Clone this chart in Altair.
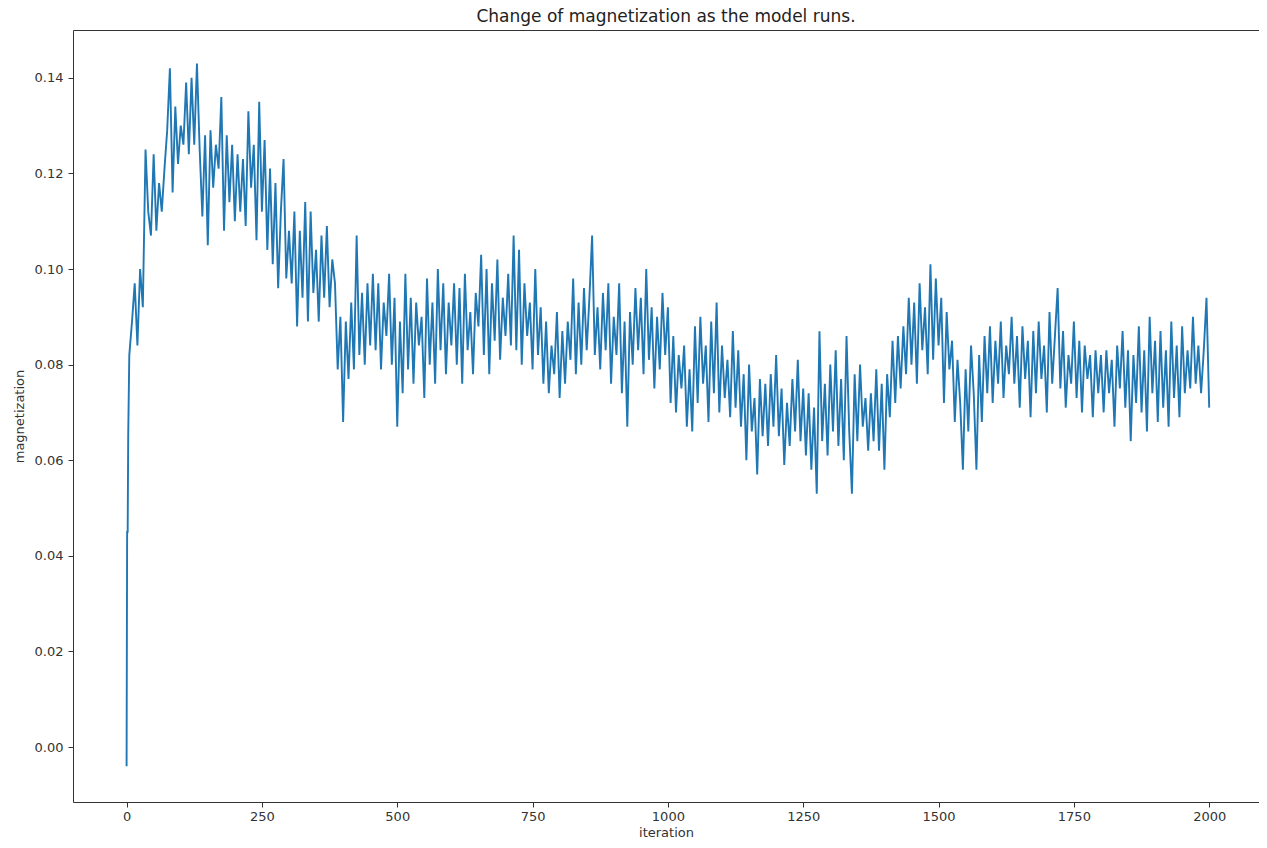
import altair as alt
import pandas as pd

# iteration index for each sampled value (start, then every 5 iterations)
iterations = [0, 1, 2, 3] + list(range(5, 2001, 5))

magnetization = [
    -0.004, 0.045, 0.045, 0.065,
    # 5-50
    0.082, 0.089, 0.097, 0.084, 0.100, 0.092, 0.125, 0.112, 0.107, 0.124,
    # 55-100
    0.108, 0.118, 0.112, 0.121, 0.129, 0.142, 0.116, 0.134, 0.122, 0.130,
    # 105-150
    0.126, 0.139, 0.124, 0.140, 0.126, 0.143, 0.125, 0.111, 0.128, 0.105,
    # 155-200
    0.129, 0.117, 0.126, 0.121, 0.136, 0.108, 0.128, 0.114, 0.126, 0.110,
    # 205-250
    0.124, 0.112, 0.123, 0.109, 0.133, 0.117, 0.126, 0.106, 0.135, 0.112,
    # 255-300
    0.127, 0.104, 0.121, 0.101, 0.118, 0.096, 0.112, 0.123, 0.098, 0.108,
    # 305-350
    0.097, 0.112, 0.088, 0.108, 0.094, 0.114, 0.089, 0.112, 0.095, 0.104,
    # 355-400
    0.089, 0.107, 0.094, 0.109, 0.092, 0.102, 0.097, 0.079, 0.090, 0.068,
    # 405-450
    0.089, 0.077, 0.093, 0.079, 0.107, 0.082, 0.095, 0.080, 0.097, 0.084,
    # 455-500
    0.099, 0.083, 0.097, 0.079, 0.093, 0.086, 0.099, 0.080, 0.094, 0.067,
    # 505-550
    0.089, 0.074, 0.099, 0.079, 0.094, 0.076, 0.093, 0.084, 0.090, 0.073,
    # 555-600
    0.098, 0.080, 0.093, 0.076, 0.100, 0.083, 0.097, 0.078, 0.093, 0.084,
    # 605-650
    0.097, 0.080, 0.096, 0.076, 0.099, 0.083, 0.091, 0.078, 0.095, 0.088,
    # 655-700
    0.103, 0.082, 0.100, 0.078, 0.097, 0.085, 0.102, 0.081, 0.094, 0.086,
    # 705-750
    0.099, 0.084, 0.107, 0.083, 0.104, 0.080, 0.097, 0.086, 0.093, 0.079,
    # 755-800
    0.100, 0.082, 0.092, 0.076, 0.089, 0.074, 0.084, 0.078, 0.091, 0.073,
    # 805-850
    0.087, 0.076, 0.089, 0.081, 0.098, 0.078, 0.093, 0.080, 0.096, 0.083,
    # 855-900
    0.094, 0.107, 0.082, 0.092, 0.079, 0.095, 0.083, 0.097, 0.076, 0.090,
    # 905-950
    0.082, 0.097, 0.074, 0.089, 0.067, 0.091, 0.080, 0.096, 0.083, 0.094,
    # 955-1000
    0.078, 0.100, 0.081, 0.092, 0.075, 0.090, 0.079, 0.095, 0.082, 0.092,
    # 1005-1050
    0.072, 0.086, 0.070, 0.082, 0.075, 0.084, 0.067, 0.079, 0.066, 0.088,
    # 1055-1100
    0.072, 0.090, 0.076, 0.084, 0.068, 0.089, 0.074, 0.093, 0.070, 0.084,
    # 1105-1150
    0.073, 0.081, 0.069, 0.087, 0.071, 0.083, 0.067, 0.078, 0.060, 0.080,
    # 1155-1200
    0.066, 0.073, 0.057, 0.077, 0.065, 0.076, 0.063, 0.078, 0.067, 0.082,
    # 1205-1250
    0.065, 0.075, 0.059, 0.072, 0.063, 0.077, 0.066, 0.081, 0.064, 0.075,
    # 1255-1300
    0.061, 0.074, 0.058, 0.071, 0.053, 0.087, 0.064, 0.076, 0.061, 0.080,
    # 1305-1350
    0.066, 0.083, 0.063, 0.077, 0.060, 0.086, 0.066, 0.053, 0.078, 0.064,
    # 1355-1400
    0.080, 0.067, 0.073, 0.062, 0.074, 0.064, 0.079, 0.062, 0.076, 0.058,
    # 1405-1450
    0.078, 0.069, 0.085, 0.072, 0.086, 0.075, 0.088, 0.078, 0.094, 0.080,
    # 1455-1500
    0.093, 0.076, 0.097, 0.083, 0.092, 0.078, 0.101, 0.081, 0.098, 0.084,
    # 1505-1550
    0.094, 0.072, 0.091, 0.079, 0.085, 0.068, 0.081, 0.072, 0.058, 0.079,
    # 1555-1600
    0.066, 0.084, 0.074, 0.058, 0.082, 0.068, 0.086, 0.074, 0.088, 0.072,
    # 1605-1650
    0.085, 0.076, 0.089, 0.073, 0.084, 0.078, 0.090, 0.076, 0.086, 0.071,
    # 1655-1700
    0.088, 0.077, 0.085, 0.069, 0.087, 0.074, 0.089, 0.077, 0.084, 0.070,
    # 1705-1750
    0.091, 0.076, 0.086, 0.096, 0.075, 0.087, 0.071, 0.082, 0.076, 0.089,
    # 1755-1800
    0.073, 0.085, 0.070, 0.084, 0.077, 0.082, 0.069, 0.083, 0.074, 0.082,
    # 1805-1850
    0.070, 0.083, 0.074, 0.081, 0.067, 0.084, 0.075, 0.087, 0.071, 0.083,
    # 1855-1900
    0.064, 0.082, 0.072, 0.088, 0.070, 0.083, 0.066, 0.090, 0.074, 0.085,
    # 1905-1950
    0.068, 0.087, 0.071, 0.083, 0.067, 0.089, 0.073, 0.084, 0.069, 0.088,
    # 1955-2000
    0.074, 0.083, 0.075, 0.090, 0.076, 0.084, 0.074, 0.083, 0.094, 0.071,
]

x_ticks = [0, 250, 500, 750, 1000, 1250, 1500, 1750, 2000]
y_ticks = [0.00, 0.02, 0.04, 0.06, 0.08, 0.10, 0.12, 0.14]

df = pd.DataFrame({"iteration": iterations, "magnetization": magnetization})

FONT = "DejaVu Sans"

chart = (
    alt.Chart(df)
    .mark_line(color="#1f77b4", strokeWidth=1.9)
    .encode(
        x=alt.X(
            "iteration:Q",
            title="iteration",
            scale=alt.Scale(domain=[-99, 2092], nice=False, zero=False),
            axis=alt.Axis(values=x_ticks, format="d"),
        ),
        y=alt.Y(
            "magnetization:Q",
            title="magnetization",
            scale=alt.Scale(domain=[-0.0115, 0.150], nice=False, zero=False),
            axis=alt.Axis(values=y_ticks, format=".2f"),
        ),
    )
    .properties(
        width=1186,
        height=772,
        title=alt.TitleParams(
            "Change of magnetization as the model runs.",
            font=FONT,
            fontSize=17,
            fontWeight="normal",
            color="#222222",
            offset=4,
            anchor="middle",
        ),
        autosize=alt.AutoSizeParams(type="none"),
        padding={"left": 65, "top": 22, "right": 0, "bottom": 38},
    )
    .configure_view(stroke="#333333", strokeWidth=1)
    .configure_axis(
        grid=False,
        domain=False,
        tickColor="#333333",
        tickSize=5,
        tickWidth=1,
        labelFont=FONT,
        labelFontSize=13,
        labelColor="#333333",
        labelPadding=3,
        titleFont=FONT,
        titleFontSize=13,
        titleFontWeight="normal",
        titleColor="#333333",
        titlePadding=3,
    )
    .configure_axisY(labelPadding=5, titlePadding=8)
)

chart.save("out.html", embed_options={"renderer": "svg", "actions": False})
